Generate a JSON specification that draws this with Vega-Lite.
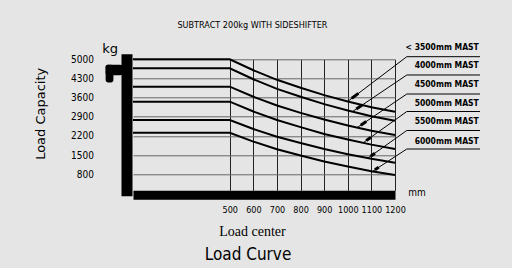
{
  "$schema": "https://vega.github.io/schema/vega-lite/v6.json",
  "width": 262,
  "height": 131,
  "autosize": {"type": "none"},
  "padding": {"left": 133, "top": 59.3, "right": 117, "bottom": 77.7},
  "background": "#e5e5e5",
  "config": {"view": {"stroke": null}, "axis": {"labelOverlap": false, "format": "d", "tickCount": 20}},
  "title": {
    "text": "Load Curve",
    "orient": "bottom",
    "anchor": "middle",
    "frame": "group",
    "dx": -16,
    "offset": 8,
    "font": "DejaVu Sans Condensed, Liberation Sans",
    "fontSize": 17,
    "fontWeight": "normal",
    "color": "black"
  },
  "datasets": {
    "curves": [
      {"series": "< 3500mm MAST", "mm": 90, "kg": 5000},
      {"series": "< 3500mm MAST", "mm": 500, "kg": 5000},
      {"series": "< 3500mm MAST", "mm": 600, "kg": 4600},
      {"series": "< 3500mm MAST", "mm": 700, "kg": 4250},
      {"series": "< 3500mm MAST", "mm": 800, "kg": 3960},
      {"series": "< 3500mm MAST", "mm": 900, "kg": 3690},
      {"series": "< 3500mm MAST", "mm": 1000, "kg": 3460},
      {"series": "< 3500mm MAST", "mm": 1100, "kg": 3250},
      {"series": "< 3500mm MAST", "mm": 1200, "kg": 3080},
      {"series": "4000mm MAST", "mm": 90, "kg": 4670},
      {"series": "4000mm MAST", "mm": 500, "kg": 4670},
      {"series": "4000mm MAST", "mm": 600, "kg": 4270},
      {"series": "4000mm MAST", "mm": 700, "kg": 3920},
      {"series": "4000mm MAST", "mm": 800, "kg": 3630},
      {"series": "4000mm MAST", "mm": 900, "kg": 3360},
      {"series": "4000mm MAST", "mm": 1000, "kg": 3130},
      {"series": "4000mm MAST", "mm": 1100, "kg": 2920},
      {"series": "4000mm MAST", "mm": 1200, "kg": 2750},
      {"series": "4500mm MAST", "mm": 90, "kg": 4000},
      {"series": "4500mm MAST", "mm": 500, "kg": 4000},
      {"series": "4500mm MAST", "mm": 600, "kg": 3630},
      {"series": "4500mm MAST", "mm": 700, "kg": 3310},
      {"series": "4500mm MAST", "mm": 800, "kg": 3040},
      {"series": "4500mm MAST", "mm": 900, "kg": 2800},
      {"series": "4500mm MAST", "mm": 1000, "kg": 2580},
      {"series": "4500mm MAST", "mm": 1100, "kg": 2390},
      {"series": "4500mm MAST", "mm": 1200, "kg": 2230},
      {"series": "5000mm MAST", "mm": 90, "kg": 3450},
      {"series": "5000mm MAST", "mm": 500, "kg": 3450},
      {"series": "5000mm MAST", "mm": 600, "kg": 3090},
      {"series": "5000mm MAST", "mm": 700, "kg": 2780},
      {"series": "5000mm MAST", "mm": 800, "kg": 2520},
      {"series": "5000mm MAST", "mm": 900, "kg": 2270},
      {"series": "5000mm MAST", "mm": 1000, "kg": 2070},
      {"series": "5000mm MAST", "mm": 1100, "kg": 1880},
      {"series": "5000mm MAST", "mm": 1200, "kg": 1720},
      {"series": "5500mm MAST", "mm": 90, "kg": 2780},
      {"series": "5500mm MAST", "mm": 500, "kg": 2780},
      {"series": "5500mm MAST", "mm": 600, "kg": 2450},
      {"series": "5500mm MAST", "mm": 700, "kg": 2170},
      {"series": "5500mm MAST", "mm": 800, "kg": 1940},
      {"series": "5500mm MAST", "mm": 900, "kg": 1720},
      {"series": "5500mm MAST", "mm": 1000, "kg": 1530},
      {"series": "5500mm MAST", "mm": 1100, "kg": 1360},
      {"series": "5500mm MAST", "mm": 1200, "kg": 1220},
      {"series": "6000mm MAST", "mm": 90, "kg": 2310},
      {"series": "6000mm MAST", "mm": 500, "kg": 2310},
      {"series": "6000mm MAST", "mm": 600, "kg": 1990},
      {"series": "6000mm MAST", "mm": 700, "kg": 1710},
      {"series": "6000mm MAST", "mm": 800, "kg": 1480},
      {"series": "6000mm MAST", "mm": 900, "kg": 1260},
      {"series": "6000mm MAST", "mm": 1000, "kg": 1080},
      {"series": "6000mm MAST", "mm": 1100, "kg": 910},
      {"series": "6000mm MAST", "mm": 1200, "kg": 770}
    ],
    "labels": [
      {"label": "< 3500mm MAST", "lx": 1555, "ly": 5439, "ux": 1250, "uy": 5095, "ux2": 1560, "tx": 1000, "ty": 3460, "ax": 1017, "ay": 3574, "bx": 1045, "by": 3754},
      {"label": "4000mm MAST", "lx": 1555, "ly": 4792, "ux": 1250, "uy": 4426, "ux2": 1560, "tx": 1020, "ty": 3088, "ax": 1036, "ay": 3182, "bx": 1061, "by": 3329},
      {"label": "4500mm MAST", "lx": 1555, "ly": 4097, "ux": 1250, "uy": 3731, "ux2": 1560, "tx": 1040, "ty": 2504, "ax": 1055, "ay": 2590, "bx": 1078, "by": 2725},
      {"label": "5000mm MAST", "lx": 1555, "ly": 3413, "ux": 1250, "uy": 3091, "ux2": 1560, "tx": 1065, "ty": 1946, "ax": 1078, "ay": 2026, "bx": 1098, "by": 2152},
      {"label": "5500mm MAST", "lx": 1555, "ly": 2744, "ux": 1250, "uy": 2397, "ux2": 1560, "tx": 1085, "ty": 1386, "ax": 1097, "ay": 1457, "bx": 1115, "by": 1568},
      {"label": "6000mm MAST", "lx": 1555, "ly": 2024, "ux": 1250, "uy": 1720, "ux2": 1560, "tx": 1105, "ty": 903, "ax": 1115, "ay": 960, "bx": 1131, "by": 1050}
    ]
  },
  "layer": [
    {
      "data": {"name": "curves"},
      "mark": {"type": "line", "color": "black", "strokeWidth": 2, "interpolate": "linear"},
      "encoding": {
        "x": {
          "field": "mm", "type": "quantitative",
          "scale": {"domain": [90, 1200], "nice": false, "zero": false},
          "axis": {
            "title": "Load center",
            "values": [500, 600, 700, 800, 900, 1000, 1100, 1200],
            "tickCount": 20, "format": "d", "labelOverlap": false,
            "grid": true, "gridColor": "#222", "gridWidth": 1, "gridOpacity": 1,
            "domain": true, "domainColor": "black", "domainWidth": 9, "offset": 4.5,
            "ticks": false, "tickSize": 0,
            "labelPadding": 11, "labelFont": "DejaVu Sans Condensed, Liberation Sans", "labelFontSize": 9,
            "labelColor": "black", "labelFlush": false,
            "titleFont": "Liberation Serif", "titleFontSize": 14, "titleFontWeight": "normal",
            "titleColor": "black", "titleX": 119, "titlePadding": 10
          }
        },
        "y": {
          "field": "kg", "type": "quantitative",
          "scale": {"domain": [210, 5000], "nice": false, "zero": false},
          "axis": {
            "title": "Load Capacity",
            "values": [800, 1500, 2200, 2900, 3600, 4300, 5000],
            "tickCount": 20, "format": "d", "labelOverlap": false,
            "grid": true, "gridColor": "#666", "gridWidth": 1, "gridOpacity": 1,
            "domain": true, "domainColor": "black", "domainWidth": 11, "domainCap": "square", "offset": 6.5,
            "ticks": false, "tickSize": 0,
            "labelPadding": 33, "labelFont": "DejaVu Sans Condensed, Liberation Sans", "labelFontSize": 10,
            "labelColor": "black",
            "titleFont": "DejaVu Sans", "titleFontSize": 13, "titleFontWeight": "normal",
            "titleColor": "black", "titleAngle": 270, "titleAlign": "center", "titleBaseline": "middle",
            "titleX": -86.5, "titleY": 54
          }
        },
        "detail": {"field": "series"}
      }
    },
    {
      "data": {"values": [{}]},
      "mark": {"type": "rect", "color": "black", "cornerRadius": 2},
      "encoding": {
        "x": {"datum": -26, "type": "quantitative"},
        "x2": {"datum": 45},
        "y": {"datum": 4800, "type": "quantitative"},
        "y2": {"datum": 4420}
      }
    },
    {
      "data": {"values": [{}]},
      "mark": {"type": "rect", "color": "black", "cornerRadius": 2.5},
      "encoding": {
        "x": {"datum": -26, "type": "quantitative"},
        "x2": {"datum": 7},
        "y": {"datum": 4800, "type": "quantitative"},
        "y2": {"datum": 4150}
      }
    },
    {
      "data": {"name": "labels"},
      "mark": {"type": "rule", "color": "black", "strokeWidth": 1},
      "encoding": {
        "x": {"field": "ux", "type": "quantitative"},
        "y": {"field": "uy", "type": "quantitative"},
        "x2": {"field": "tx"},
        "y2": {"field": "ty"}
      }
    },
    {
      "data": {"name": "labels"},
      "mark": {"type": "rule", "color": "black", "strokeWidth": 1},
      "encoding": {
        "x": {"field": "ux", "type": "quantitative"},
        "y": {"field": "uy", "type": "quantitative"},
        "x2": {"field": "ux2"}
      }
    },
    {
      "data": {"name": "labels"},
      "mark": {"type": "rule", "color": "black", "strokeWidth": 3},
      "encoding": {
        "x": {"field": "ax", "type": "quantitative"},
        "y": {"field": "ay", "type": "quantitative"},
        "x2": {"field": "bx"},
        "y2": {"field": "by"}
      }
    },
    {
      "data": {"name": "labels"},
      "mark": {"type": "text", "align": "right", "baseline": "middle", "font": "DejaVu Sans Condensed, Liberation Sans", "fontSize": 8.5, "fontWeight": "bold", "color": "black"},
      "encoding": {
        "x": {"field": "lx", "type": "quantitative"},
        "y": {"field": "ly", "type": "quantitative"},
        "text": {"field": "label"}
      }
    },
    {
      "data": {"values": [{}]},
      "mark": {"type": "text", "align": "center", "baseline": "middle", "font": "DejaVu Sans", "fontSize": 13, "color": "black"},
      "encoding": {
        "x": {"datum": -7, "type": "quantitative"},
        "y": {"datum": 5377, "type": "quantitative"},
        "text": {"value": "kg"}
      }
    },
    {
      "data": {"values": [{}]},
      "mark": {"type": "text", "align": "center", "baseline": "middle", "font": "DejaVu Sans Condensed, Liberation Sans", "fontSize": 10, "color": "black"},
      "encoding": {
        "x": {"datum": 1293, "type": "quantitative"},
        "y": {"datum": 111, "type": "quantitative"},
        "text": {"value": "mm"}
      }
    },
    {
      "data": {"values": [{}]},
      "mark": {"type": "text", "align": "center", "baseline": "middle", "font": "DejaVu Sans Condensed, Liberation Sans", "fontSize": 9, "color": "black"},
      "encoding": {
        "x": {"datum": 596, "type": "quantitative"},
        "y": {"datum": 6254, "type": "quantitative"},
        "text": {"value": "SUBTRACT 200kg WITH SIDESHIFTER"}
      }
    }
  ]
}
